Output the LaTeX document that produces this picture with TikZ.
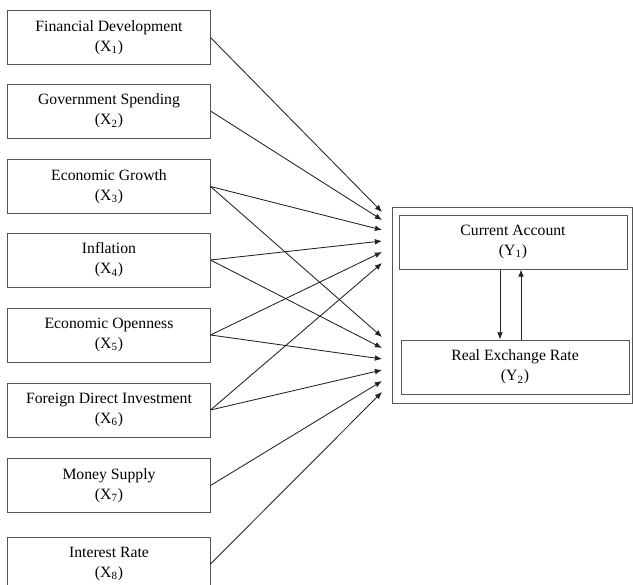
\documentclass[tikz,border=0pt]{standalone}
\usepackage{fontspec}
\setmainfont{Liberation Serif}
\usetikzlibrary{arrows.meta, positioning, calc}
\definecolor{mydark}{RGB}{35,35,35}
\definecolor{boxgray}{RGB}{85,85,85}
\tikzset{
  xbox/.style={rectangle, draw=boxgray, fill=white,
    minimum width=141.4pt, minimum height=37.8pt, align=center,
    font=\fontsize{11}{14}\selectfont, inner sep=0pt, line width=0.7pt},
  ybox/.style={rectangle, draw=boxgray, fill=white,
    minimum width=159.6pt, minimum height=37.8pt, align=center,
    font=\fontsize{11}{14}\selectfont, inner sep=0pt, line width=0.7pt},
  outerbox/.style={rectangle, draw=boxgray, minimum width=168pt,
    minimum height=137.2pt, line width=0.7pt},
  arrow/.style={-{Latex[length=5pt,width=4pt]}, line width=0.6pt, color=mydark}
}

\begin{document}
\begin{tikzpicture}[x=0.7pt, y=-0.7pt]
  \useasboundingbox (0,0) rectangle (633,584);

  % determinants
  \node[xbox] (x1) at (109,37.5) {Financial Development\\(X\textsubscript{1})};
  \node[xbox] (x2) at (109,111) {Government Spending\\(X\textsubscript{2})};
  \node[xbox] (x3) at (109,186.5) {Economic Growth\\(X\textsubscript{3})};
  \node[xbox] (x4) at (109,260) {Inflation\\(X\textsubscript{4})};
  \node[xbox] (x5) at (109,335) {Economic Openness\\(X\textsubscript{5})};
  \node[xbox] (x6) at (109,410) {Foreign Direct Investment\\(X\textsubscript{6})};
  \node[xbox] (x7) at (109,485.5) {Money Supply\\(X\textsubscript{7})};
  \node[xbox] (x8) at (109,564) {Interest Rate\\(X\textsubscript{8})};

  % outcomes
  \node[outerbox] (outer) at (512,305) {};
  \node[ybox] (y1) at (513,242) {Current Account\\(Y\textsubscript{1})};
  \node[ybox] (y2) at (515,367) {Real Exchange Rate\\(Y\textsubscript{2})};

  % arrow tips in front of the frame
  \coordinate (a1) at (382,212);
  \coordinate (a2) at (382,220);
  \coordinate (a3) at (382,230);
  \coordinate (a4) at (382,241);
  \coordinate (a5) at (382,252);
  \coordinate (a6) at (382,263);
  \coordinate (b3) at (382,337);
  \coordinate (b4) at (382,348);
  \coordinate (b5) at (382,359);
  \coordinate (b6) at (382,370);
  \coordinate (b7) at (382,381);
  \coordinate (b8) at (382,392);

  \draw[arrow] (x1.east) -- (a1);
  \draw[arrow] (x2.east) -- (a2);
  \draw[arrow] (x3.east) -- (a3);
  \draw[arrow] (x4.east) -- (a4);
  \draw[arrow] (x5.east) -- (a5);
  \draw[arrow] (x6.east) -- (a6);

  \draw[arrow] (x3.east) -- (b3);
  \draw[arrow] (x4.east) -- (b4);
  \draw[arrow] (x5.east) -- (b5);
  \draw[arrow] (x6.east) -- (b6);
  \draw[arrow] (x7.east) -- (b7);
  \draw[arrow] (x8.east) -- (b8);

  \draw[arrow] ([xshift=-9.1pt]y1.south) -- ([xshift=-9.1pt]y1.south |- y2.north);
  \draw[arrow] ([xshift=5.6pt]y1.south |- y2.north) -- ([xshift=5.6pt]y1.south);

\end{tikzpicture}
\end{document}
